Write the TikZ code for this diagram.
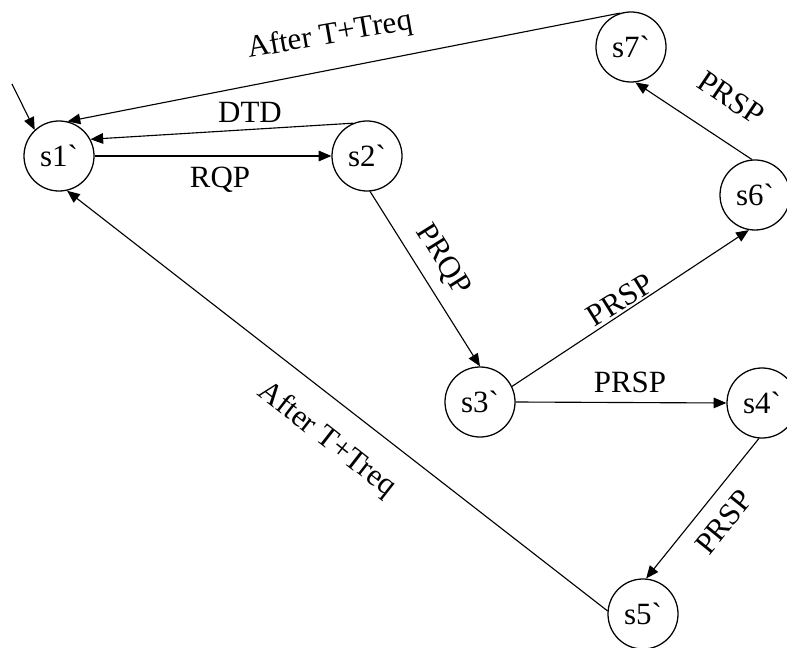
\documentclass[tikz,border=0pt]{standalone}
\usepackage{fontspec}
\setmainfont{Liberation Serif}
\usetikzlibrary{arrows.meta,positioning}
\newcommand{\prm}{\textasciigrave}

\begin{document}
\begin{tikzpicture}[
  x=0.025cm, y=-0.025cm,
  state/.style={draw, circle, line width=0.9pt, minimum size=1.75cm, inner sep=0pt, font=\fontsize{22}{26}\selectfont},
  lbl/.style={font=\fontsize{22}{26}\selectfont, inner sep=1pt},
  arr/.style={-{Triangle[length=9pt, width=7.5pt]}, line width=0.8pt},
]
  \useasboundingbox (0,0) rectangle (787,648);

  \node[state] (s1) at (59,156) {s1\prm};
  \node[state] (s2) at (367,156) {s2\prm};
  \node[state] (s3) at (480,402) {s3\prm};
  \node[state] (s4) at (762,403) {s4\prm};
  \node[state] (s5) at (643,614) {s5\prm};
  \node[state] (s6) at (755,195) {s6\prm};
  \node[state] (s7) at (631,47) {s7\prm};
  \coordinate (init) at (12,84);

  \node[lbl, rotate=10] (ltop) at (330,36) {After T+Treq};
  \node[lbl] (ldtd) at (250,112) {DTD};
  \node[lbl] (lrqp) at (220,180) {RQP};
  \node[lbl, rotate=-58] (lprqp) at (443,260) {PRQP};
  \node[lbl, rotate=32] (l36) at (620,300) {PRSP};
  \node[lbl] (l34) at (630,382) {PRSP};
  \node[lbl, rotate=51] (l45) at (724,522) {PRSP};
  \node[lbl, rotate=-34] (l67) at (731,98) {PRSP};
  \node[lbl, rotate=-38] (lbot) at (327,440) {After T+Treq};

  \draw[arr] (init) -- (s1.133);
  \draw[arr] (s7.108) -- (s1.76);
  \draw[arr] (s2.113) -- (s1.28);
  \draw[arr] (s1.east) -- (s2.west);
  \draw[arr] (s2.-85) -- (s3.90);
  \draw[arr] (s3.26) -- (s6.-100);
  \draw[arr] (s3.east) -- (s4.west);
  \draw[arr] (s4.-95) -- (s5.85);
  \draw[arr] (s6.95) -- (s7.-83);
  \draw[arr] (s5.175) -- (s1.-77);
\end{tikzpicture}
\end{document}
